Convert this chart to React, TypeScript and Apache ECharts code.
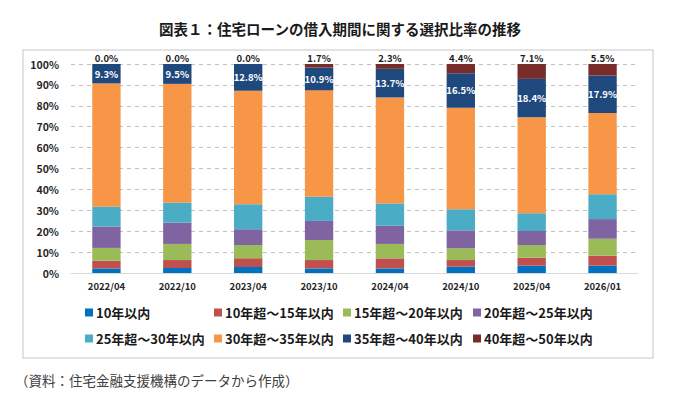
import React, { useEffect, useRef } from "react";
import * as echarts from "echarts";

const categories = ["2022/04", "2022/10", "2023/04", "2023/10", "2024/04", "2024/10", "2025/04", "2026/01"];
const seriesNames = [
  "10年以内",
  "10年超～15年以内",
  "15年超～20年以内",
  "20年超～25年以内",
  "25年超～30年以内",
  "30年超～35年以内",
  "35年超～40年以内",
  "40年超～50年以内",
];
const within10 = [2.2, 2.4, 2.9, 2.2, 2.2, 3.0, 3.5, 3.5];
const y10to15 = [3.7, 3.8, 4.1, 4.0, 4.8, 3.2, 3.8, 4.8];
const y15to20 = [6.1, 7.7, 6.4, 9.6, 6.9, 5.6, 6.1, 8.1];
const y20to25 = [10.2, 10.2, 7.5, 9.1, 8.7, 8.6, 6.7, 9.4];
const y25to30 = [9.5, 9.5, 12.0, 11.6, 10.7, 10.1, 8.5, 11.9];
const y30to35 = [59.0, 56.9, 54.3, 50.9, 50.7, 48.6, 45.9, 38.9];
const y35to40 = [9.3, 9.5, 12.8, 10.9, 13.7, 16.5, 18.4, 17.9];
const y40to50 = [0.0, 0.0, 0.0, 1.7, 2.3, 4.4, 7.1, 5.5];
const yTicks = [0, 10, 20, 30, 40, 50, 60, 70, 80, 90, 100];

const seriesData = [within10, y10to15, y15to20, y20to25, y25to30, y30to35, y35to40, y40to50];
const colors = ["#0070C0", "#C0504D", "#9BBB59", "#8064A2", "#4BACC6", "#F79646", "#1F497D", "#772C2A"];

const FONT = "'Noto Sans CJK JP', 'Noto Sans', sans-serif";

export default function App() {
  const ref = useRef<HTMLDivElement>(null);
  useEffect(() => {
    if (!ref.current) return;
    const chart = echarts.init(ref.current, undefined, { renderer: "svg" });
    const legendCols = [85, 214, 343, 473];
    const legendRows = [306, 332];
    const legends = seriesNames.map((name, i) => ({
      data: [name],
      left: legendCols[i % 4],
      top: legendRows[Math.floor(i / 4)],
      padding: 0,
      icon: "rect",
      itemWidth: 8,
      itemHeight: 8,
      selectedMode: false,
      textStyle: { fontFamily: FONT, fontSize: 13, fontWeight: "bold", color: "#1a1a1a", padding: [0, 0, 0, -2] },
    }));
    const series = seriesData.map((data, i) => {
      const s: any = {
        name: seriesNames[i],
        type: "bar",
        stack: "total",
        data,
        barWidth: "40%",
        itemStyle: { color: colors[i] },
      };
      if (i === 6) {
        s.label = {
          show: true,
          position: "inside",
          color: "#ffffff",
          fontFamily: FONT,
          fontSize: 9.5,
          fontWeight: "bold",
          formatter: (p: any) => p.value.toFixed(1) + "%",
        };
      }
      if (i === 7) {
        s.label = {
          show: true,
          position: "top",
          distance: 1,
          color: "#1a1a1a",
          fontFamily: FONT,
          fontSize: 9.5,
          fontWeight: "bold",
          formatter: (p: any) => p.value.toFixed(1) + "%",
        };
      }
      return s;
    });
    chart.setOption({
      animation: false,
      backgroundColor: "#ffffff",
      title: {
        text: "図表１：住宅ローンの借入期間に関する選択比率の推移",
        left: "center",
        top: 16,
        textStyle: { fontFamily: FONT, fontSize: 14.5, fontWeight: "bold", color: "#1a1a1a" },
      },
      graphic: [
        {
          type: "rect",
          shape: { x: 23, y: 50, width: 630, height: 308 },
          style: { fill: "none", stroke: "#d9d9d9", lineWidth: 1.5 },
          silent: true,
          z: -1,
        },
        {
          type: "text",
          left: 15,
          top: 373,
          style: {
            text: "（資料：住宅金融支援機構のデータから作成）",
            fontFamily: FONT,
            fontSize: 13.5,
            fill: "#404040",
          },
        },
      ],
      legend: legends,
      grid: { left: 71, right: 42, top: 64, bottom: 137 },
      xAxis: {
        type: "category",
        data: categories,
        axisLine: { lineStyle: { color: "#d9d9d9", width: 1 } },
        axisTick: { show: false },
        axisLabel: { fontFamily: FONT, fontSize: 9.5, fontWeight: "bold", color: "#262626", margin: 8 },
      },
      yAxis: {
        type: "value",
        min: yTicks[0],
        max: yTicks[yTicks.length - 1],
        interval: 10,
        axisLine: { show: false },
        axisTick: { show: false },
        splitLine: { lineStyle: { color: "#bfbfbf", type: [4, 4], width: 1 } },
        axisLabel: {
          fontFamily: FONT,
          fontSize: 10.5,
          fontWeight: "bold",
          color: "#262626",
          margin: 12,
          formatter: (v: number) => v + "%",
        },
      },
      series,
    });
    return () => chart.dispose();
  }, []);
  return (
    <div
      ref={ref}
      style={{ position: "fixed", left: 0, top: 0, width: 680, height: 410 }}
    />
  );
}
